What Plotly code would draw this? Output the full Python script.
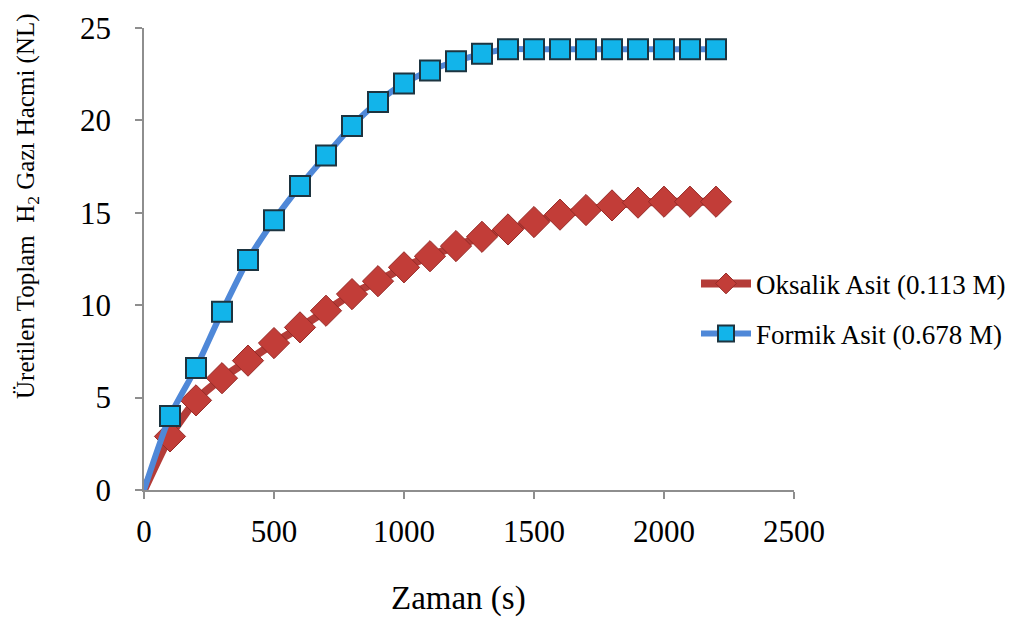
import plotly.graph_objects as go

# Time points (s)
zaman = [0, 100, 200, 300, 400, 500, 600, 700, 800, 900, 1000, 1100,
         1200, 1300, 1400, 1500, 1600, 1700, 1800, 1900, 2000, 2100, 2200]

# Cumulative H2 volume (NL)
oksalik = [0, 2.9, 4.85, 6.05, 7.0, 7.95, 8.8, 9.7, 10.6, 11.3, 12.05, 12.65,
           13.2, 13.7, 14.1, 14.5, 14.9, 15.15, 15.4, 15.55, 15.6, 15.6, 15.6]
formik = [0, 4.0, 6.6, 9.65, 12.45, 14.6, 16.45, 18.1, 19.7, 21.0, 22.0, 22.7,
          23.2, 23.6, 23.85, 23.85, 23.85, 23.85, 23.85, 23.85, 23.85, 23.85, 23.85]

names = ["Oksalik Asit (0.113 M)", "Formik Asit (0.678 M)"]
x_ticks = [0, 500, 1000, 1500, 2000, 2500]
y_ticks = [0, 5, 10, 15, 20, 25]

FONT = "Liberation Serif, Times New Roman, serif"
AXIS_COLOR = "#8e8e8e"

# no marker on the origin point
def sizes(n, s):
    return [0] + [s] * (n - 1)

fig = go.Figure()
fig.add_trace(go.Scatter(
    x=zaman, y=oksalik, name=names[0], mode="lines+markers", legendgroup="o",
    line=dict(color="#b43c38", width=8, shape="spline", smoothing=0.6),
    marker=dict(symbol="diamond", size=sizes(len(zaman), 24), color="#c23d38",
                opacity=1, line=dict(color="#962b28", width=1)),
))
fig.add_trace(go.Scatter(
    x=zaman, y=formik, name=names[1], mode="lines+markers", legendgroup="f",
    line=dict(color="#4f88d8", width=6, shape="spline", smoothing=0.6),
    marker=dict(symbol="square", size=sizes(len(zaman), 20), color="#12b4ea",
                opacity=1, line=dict(color="#1d3440", width=2)),
))

fig.update_layout(
    width=1023, height=617,
    margin=dict(l=144, r=229, t=28, b=127),
    paper_bgcolor="white", plot_bgcolor="white",
    font=dict(family=FONT, color="black", size=31),
    showlegend=True,
    legend=dict(x=(696 - 144) / 650, y=0.392, xanchor="left", yanchor="middle",
                font=dict(family=FONT, size=27), bgcolor="rgba(0,0,0,0)",
                itemwidth=50, tracegroupgap=12),
    xaxis=dict(range=[0, 2500], tickvals=x_ticks, showgrid=False, zeroline=False,
               showline=True, linecolor=AXIS_COLOR, linewidth=1.5,
               ticks="outside", ticklen=7, tickcolor=AXIS_COLOR, tickwidth=1.5,
               ticklabelstandoff=6, tickfont=dict(size=31)),
    yaxis=dict(range=[0, 25], tickvals=y_ticks, showgrid=False, zeroline=False,
               showline=True, linecolor=AXIS_COLOR, linewidth=1.5,
               ticks="outside", ticklen=7, tickcolor=AXIS_COLOR, tickwidth=1.5,
               ticklabelstandoff=18, tickfont=dict(size=31)),
    annotations=[
        dict(text="Zaman (s)", xref="paper", yref="paper",
             x=(458 - 144) / 650, y=-(598 - 490) / 462,
             xanchor="center", yanchor="middle", showarrow=False,
             font=dict(family=FONT, size=33)),
        dict(text="Üretilen Toplam  H<sub>2</sub> Gazı Hacmi (NL)",
             xref="paper", yref="paper",
             x=(27 - 144) / 650, y=(490 - 206) / 462,
             xanchor="center", yanchor="middle", textangle=-90, showarrow=False,
             font=dict(family=FONT, size=25)),
    ],
)

fig.write_html("out.html")
